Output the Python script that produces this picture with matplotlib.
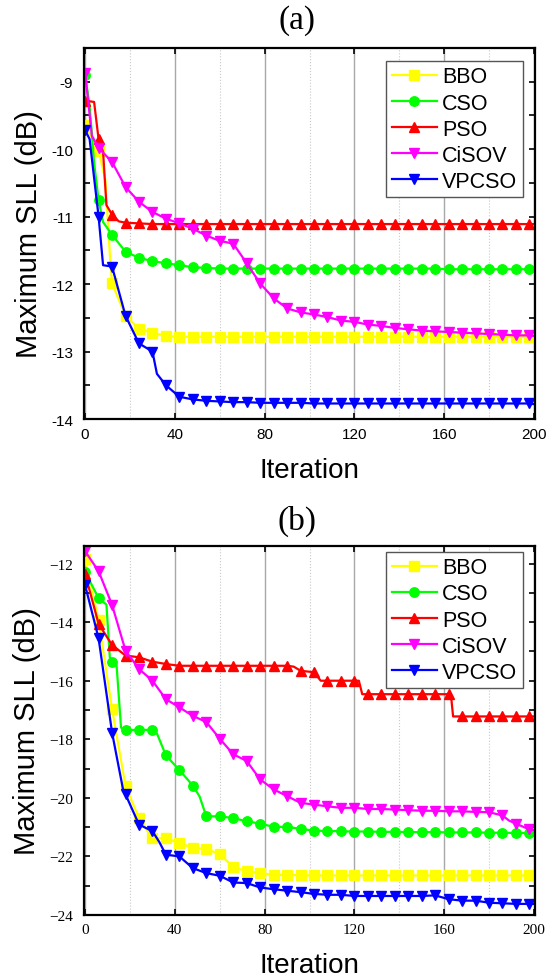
import matplotlib
matplotlib.use('Agg')
import matplotlib.pyplot as plt
from matplotlib.ticker import MultipleLocator, FuncFormatter

names = ['BBO', 'CSO', 'PSO', 'CiSOV', 'VPCSO']
colors = ['#ffff00', '#00ff00', '#ff0000', '#ff00ff', '#0000ff']
markers = ['s', 'o', '^', 'v', 'v']

# iterations where the markers sit (every 6th) plus the last iteration
mark_it = list(range(0, 199, 6)) + [200]

# ---- (a) ----
bbo_a = [-9.64, -10.02, -11.99, -12.47, -12.66, -12.72, -12.77, -12.78, -12.78, -12.78,
         -12.78, -12.78, -12.78, -12.78, -12.78, -12.78, -12.78, -12.78, -12.78, -12.78,
         -12.78, -12.78, -12.78, -12.78, -12.78, -12.78, -12.78, -12.78, -12.78, -12.78,
         -12.78, -12.78, -12.78, -12.78, -12.78]
cso_a = [-8.90, -10.76, -11.27, -11.52, -11.61, -11.66, -11.69, -11.72, -11.75, -11.76,
         -11.77, -11.77, -11.77, -11.77, -11.77, -11.77, -11.77, -11.77, -11.77, -11.77,
         -11.77, -11.77, -11.77, -11.77, -11.77, -11.77, -11.77, -11.78, -11.78, -11.78,
         -11.78, -11.78, -11.78, -11.78, -11.78]
pso_a = [-9.28, -9.85, -10.97, -11.09, -11.10, -11.11, -11.11, -11.11, -11.11, -11.11,
         -11.11, -11.11, -11.11, -11.11, -11.11, -11.11, -11.11, -11.11, -11.11, -11.11,
         -11.11, -11.11, -11.11, -11.11, -11.11, -11.11, -11.11, -11.11, -11.11, -11.11,
         -11.11, -11.11, -11.11, -11.11, -11.11]
cisov_a = [-8.87, -9.98, -10.19, -10.56, -10.78, -10.93, -11.03, -11.10, -11.18, -11.28,
           -11.36, -11.40, -11.69, -11.99, -12.21, -12.36, -12.42, -12.45, -12.49, -12.54,
           -12.56, -12.60, -12.62, -12.65, -12.67, -12.69, -12.70, -12.71, -12.72, -12.73,
           -12.74, -12.75, -12.76, -12.76, -12.77]
vpcso_a = [-9.72, -11.00, -11.74, -12.47, -12.88, -13.00, -13.50, -13.67, -13.71, -13.73,
           -13.74, -13.75, -13.75, -13.76, -13.76, -13.76, -13.76, -13.77, -13.77, -13.77,
           -13.77, -13.77, -13.77, -13.77, -13.77, -13.77, -13.77, -13.77, -13.77, -13.77,
           -13.77, -13.77, -13.77, -13.77, -13.78]
# extra points between markers (iteration, value)
bbo_a_x, bbo_a_v = [9, 11], [-10.45, -11.55]
cso_a_x, cso_a_v = [2, 4, 8], [-9.35, -10.2, -11.08]
pso_a_x, pso_a_v = [4, 8, 9.5, 15], [-9.30, -10.04, -10.83, -11.07]
cisov_a_x, cisov_a_v = [3], [-9.8]
vpcso_a_x, vpcso_a_v = [2, 8, 32], [-9.85, -11.72, -13.33]

# ---- (b) ----
bbo_b = [-11.85, -13.94, -16.97, -19.60, -20.69, -21.38, -21.38, -21.54, -21.71, -21.75,
         -21.92, -22.36, -22.51, -22.57, -22.63, -22.63, -22.64, -22.65, -22.65, -22.65,
         -22.65, -22.65, -22.65, -22.65, -22.65, -22.65, -22.65, -22.65, -22.65, -22.65,
         -22.65, -22.65, -22.65, -22.65, -22.65]
cso_b = [-12.29, -13.18, -15.37, -17.68, -17.68, -17.68, -18.55, -19.05, -19.58, -20.63,
         -20.63, -20.69, -20.80, -20.88, -20.99, -20.99, -21.06, -21.12, -21.13, -21.14,
         -21.15, -21.15, -21.16, -21.16, -21.17, -21.17, -21.17, -21.18, -21.18, -21.18,
         -21.19, -21.19, -21.20, -21.20, -21.20]
pso_b = [-12.35, -14.06, -14.78, -15.14, -15.20, -15.35, -15.43, -15.49, -15.49, -15.49,
         -15.49, -15.49, -15.49, -15.49, -15.49, -15.49, -15.66, -15.71, -16.00, -16.00,
         -16.00, -16.46, -16.46, -16.46, -16.46, -16.46, -16.46, -16.46, -17.22, -17.22,
         -17.22, -17.22, -17.22, -17.22, -17.22]
cisov_b = [-11.58, -12.26, -13.41, -14.97, -15.60, -16.00, -16.63, -16.91, -17.20, -17.41,
           -17.98, -18.51, -18.74, -19.37, -19.71, -19.94, -20.17, -20.23, -20.29, -20.34,
           -20.34, -20.38, -20.38, -20.40, -20.42, -20.44, -20.44, -20.46, -20.46, -20.48,
           -20.49, -20.60, -20.88, -21.08, -21.10]
vpcso_b = [-12.74, -14.55, -17.77, -19.88, -20.91, -21.14, -21.94, -22.00, -22.40, -22.57,
           -22.66, -22.89, -22.91, -23.06, -23.12, -23.17, -23.22, -23.28, -23.31, -23.31,
           -23.35, -23.35, -23.35, -23.35, -23.35, -23.35, -23.33, -23.46, -23.51, -23.51,
           -23.58, -23.60, -23.62, -23.62, -23.62]
bbo_b_x, bbo_b_v = [], []
cso_b_x, cso_b_v = [9.5, 11, 14, 16, 32, 51], [-13.40, -15.2, -15.45, -17.6, -17.8, -19.95]
pso_b_x, pso_b_v = [93, 105, 122, 123.5, 163, 164], [-15.52, -16.0, -16.0, -16.46, -16.46, -17.22]
cisov_b_x, cisov_b_v = [189], [-20.78]
vpcso_b_x, vpcso_b_v = [17, 33], [-19.75, -21.5]

panel_a = [(bbo_a, bbo_a_x, bbo_a_v), (cso_a, cso_a_x, cso_a_v), (pso_a, pso_a_x, pso_a_v),
           (cisov_a, cisov_a_x, cisov_a_v), (vpcso_a, vpcso_a_x, vpcso_a_v)]
panel_b = [(bbo_b, bbo_b_x, bbo_b_v), (cso_b, cso_b_x, cso_b_v), (pso_b, pso_b_x, pso_b_v),
           (cisov_b, cisov_b_x, cisov_b_v), (vpcso_b, vpcso_b_x, vpcso_b_v)]


def draw_panel(ax, series, ylim, ymajor, yminor, tickfont, leg_y, tickfmt=None):
    '''Draws one convergence panel.'''
    for (vals, ex_x, ex_v), name, c, m in zip(series, names, colors, markers):
        pts = sorted(list(zip(mark_it, vals)) + list(zip(ex_x, ex_v)))
        xs = [p[0] for p in pts]
        ys = [p[1] for p in pts]
        every = [i for i, x in enumerate(xs) if x in mark_it and x != 200]
        ax.plot(xs, ys, color=c, marker=m, markersize=6.8, markevery=every,
                lw=1.6, mec=c, label=name)
    ax.set_xlim(-0.5, 200.5)
    ax.set_ylim(*ylim)
    ax.xaxis.set_major_locator(MultipleLocator(40))
    ax.xaxis.set_minor_locator(MultipleLocator(20))
    ax.yaxis.set_major_locator(MultipleLocator(ymajor))
    ax.yaxis.set_minor_locator(MultipleLocator(yminor))
    if tickfmt is not None:
        ax.yaxis.set_major_formatter(tickfmt)
    ax.grid(axis='x', which='major', color='#a8a8a8', lw=1.0, ls='-')
    ax.grid(axis='x', which='minor', color='#c8c8c8', lw=0.8, ls=':')
    ax.set_axisbelow(True)
    ax.tick_params(axis='both', which='both', direction='in', top=True, right=True,
                   length=4, width=1.2)
    ax.tick_params(axis='x', which='minor', length=0)
    ax.tick_params(axis='y', pad=8)
    ax.tick_params(axis='x', pad=6)
    for lab in ax.get_xticklabels() + ax.get_yticklabels():
        lab.set_fontfamily(tickfont)
        lab.set_fontsize(11)
    for sp in ax.spines.values():
        sp.set_linewidth(1.6)
    ax.set_xlabel('Iteration', fontsize=20, family='Liberation Sans', labelpad=11)
    ax.set_ylabel('Maximum SLL (dB)', fontsize=21, family='Liberation Sans', labelpad=6)
    leg = ax.legend(loc='upper right', bbox_to_anchor=(0.973, leg_y), borderaxespad=0,
                    prop={'family': 'Liberation Sans', 'size': 15.5}, fancybox=False,
                    edgecolor='#555555', framealpha=1, handlelength=2.1,
                    handletextpad=0.25, labelspacing=0.24, borderpad=0.25)
    leg.get_frame().set_linewidth(1.0)


fig = plt.figure(figsize=(5.56, 9.78), dpi=100)
ax_a = fig.add_axes([84 / 556, 1 - 420 / 978, 451 / 556, 371 / 978])
ax_b = fig.add_axes([84 / 556, 1 - 916 / 978, 451 / 556, 369 / 978])

draw_panel(ax_a, panel_a, (-14, -8.5), 1, 0.5, 'Liberation Sans', 0.965,
           FuncFormatter(lambda v, p: f'{v:g}'))
draw_panel(ax_b, panel_b, (-24, -11.4), 2, 1, 'Liberation Serif', 0.984)

fig.text(297 / 556, 1 - 21 / 978, '(a)', ha='center', va='center',
         fontsize=24, family='Liberation Serif')
fig.text(297 / 556, 1 - 521 / 978, '(b)', ha='center', va='center',
         fontsize=24, family='Liberation Serif')

fig.savefig('out.png', dpi=100)
